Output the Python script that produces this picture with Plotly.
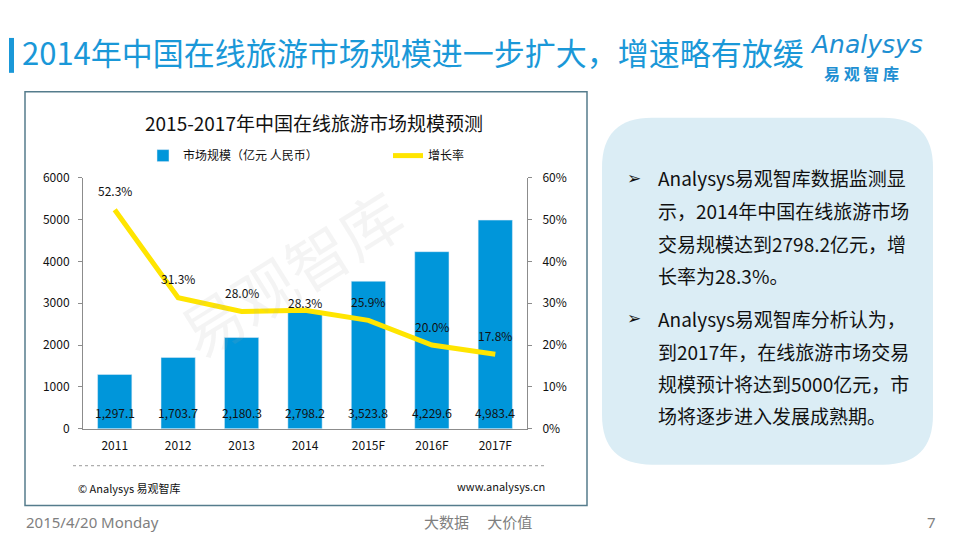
import plotly.graph_objects as go

years = ["2011", "2012", "2013", "2014", "2015F", "2016F", "2017F"]
market_size = [1297.1, 1703.7, 2180.3, 2798.2, 3523.8, 4229.6, 4983.4]
growth_rate = [52.3, 31.3, 28.0, 28.3, 25.9, 20.0, 17.8]

note_1 = ["Analysys易观智库数据监测显", "示，2014年中国在线旅游市场",
          "交易规模达到2798.2亿元，增", "长率为28.3%。"]
note_2 = ["Analysys易观智库分析认为，", "到2017年，在线旅游市场交易",
          "规模预计将达到5000亿元，市", "场将逐步进入发展成熟期。"]

W, H = 956, 536
# the page is shown slightly offset/squeezed, so screen positions are mapped back here
OX, OY, HS = 8, 17, 520.5
FONT = "Noto Sans CJK SC, Microsoft YaHei, sans-serif"
BLUE = "#0096DA"
YELLOW = "#FFE500"
TITLE_BLUE = "#1A98D8"


def px(x):
    return (x - OX) / W


def py(y):
    return 1 - (y - OY) / HS


def label(x, y, text, size, color="#111", xanchor="center", family=None):
    f = dict(size=size, color=color)
    if family:
        f["family"] = family
    return dict(x=px(x), y=py(y), xref="paper", yref="paper", text=text, showarrow=False,
                xanchor=xanchor, yanchor="middle", font=f)


def rounded_rect(x0, y0, x1, y1, r):
    # screen pixel coords -> paper coords path with rounded corners
    pts = lambda x, y: f"{px(x)},{py(y)}"
    return ("M " + pts(x0 + r, y0) + " L " + pts(x1 - r, y0) +
            " Q " + pts(x1, y0) + " " + pts(x1, y0 + r) +
            " L " + pts(x1, y1 - r) +
            " Q " + pts(x1, y1) + " " + pts(x1 - r, y1) +
            " L " + pts(x0 + r, y1) +
            " Q " + pts(x0, y1) + " " + pts(x0, y1 - r) +
            " L " + pts(x0, y0 + r) +
            " Q " + pts(x0, y0) + " " + pts(x0 + r, y0) + " Z")


fig = go.Figure()
fig.add_trace(go.Bar(x=years, y=market_size, name="市场规模（亿元 人民币）",
                     marker_color=BLUE, yaxis="y", hoverinfo="skip"))
fig.add_trace(go.Scatter(x=years, y=growth_rate, name="增长率", mode="lines",
                         line=dict(color=YELLOW, width=5), yaxis="y2", hoverinfo="skip"))

ann = []
# bar value labels near the base of each bar (x given as category index)
for i, v in enumerate(market_size):
    ann.append(dict(x=i, y=0, xref="x", yref="y", text=f"{v:,.1f}", showarrow=False,
                    xanchor="center", yanchor="middle", yshift=16,
                    font=dict(size=12, color="#111")))
# growth labels above the line
lift = {"2014": 8}
for i, (yr, g) in enumerate(zip(years, growth_rate)):
    ann.append(dict(x=i, y=g, xref="x", yref="y2", text=f"{g:.1f}%", showarrow=False,
                    xanchor="center", yanchor="middle", yshift=lift.get(yr, 19),
                    font=dict(size=12, color="#111")))

# watermark
wm = label(290, 272, "易观智库", 62, color="rgba(170,170,170,0.13)")
wm["textangle"] = -32
ann.append(wm)

# page title and logo
ann.append(label(20, 51, "2014年中国在线旅游市场规模进一步扩大，增速略有放缓", 31,
                 color=TITLE_BLUE, xanchor="left"))
ann.append(label(866, 44, "<i>Analysys</i>", 25, color="#1E8FD2", family="DejaVu Sans"))
ann.append(label(861, 72, "<b>易 观 智 库</b>", 16, color="#1E8FD2"))

# chart title and sources
ann.append(label(314, 122, "2015-2017年中国在线旅游市场规模预测", 19))
ann.append(label(76, 488, "© Analysys 易观智库", 11, xanchor="left"))
ann.append(label(547, 486, "www.analysys.cn", 11, xanchor="right"))

# right panel text
line_y = [177, 210, 243, 275, 318, 351, 384, 416]
for yy, line in zip(line_y, note_1 + note_2):
    ann.append(label(656, yy, line, 19, xanchor="left"))
for yy in (line_y[0], line_y[4]):
    ann.append(label(634, yy, "<b>➢</b>", 17, family="DejaVu Sans"))

# footer
ann.append(label(24, 522, "2015/4/20 Monday", 15, color="#7f7f7f", xanchor="left", family="Noto Sans"))
ann.append(label(478, 522, "大数据　 大价值", 15, color="#7f7f7f"))
ann.append(label(931, 522, "7", 15, color="#7f7f7f", family="Noto Sans"))

shapes = [
    dict(type="rect", xref="paper", yref="paper", x0=px(9), x1=px(14), y0=py(72), y1=py(37),
         fillcolor=TITLE_BLUE, line=dict(width=0)),
    dict(type="rect", xref="paper", yref="paper", x0=px(25), x1=px(587), y0=py(506), y1=py(91),
         line=dict(color="#557C8C", width=1.5), layer="below"),
    dict(type="line", xref="paper", yref="paper", x0=px(73), x1=px(547), y0=py(466), y1=py(466),
         line=dict(color="#9a9a9a", width=1, dash="dot")),
    dict(type="path", xref="paper", yref="paper", path=rounded_rect(602, 117, 933, 465, 50),
         fillcolor="#DBEDF5", line=dict(width=0), layer="below"),
]

axis_font = dict(size=12, color="#111")
fig.update_layout(
    width=W, height=H,
    margin=dict(l=0, r=0, t=0, b=0),
    paper_bgcolor="white", plot_bgcolor="rgba(0,0,0,0)",
    font=dict(family=FONT),
    bargap=0.46,
    xaxis=dict(domain=[px(83), px(527)], type="category", range=[-0.5, len(years) - 0.5],
               showline=True, linecolor="#8c8c8c", ticks="", tickfont=axis_font,
               ticklabelstandoff=6, fixedrange=True),
    yaxis=dict(domain=[py(429), py(177)], range=[0, 6000], dtick=1000, showgrid=False,
               zeroline=False, showline=True, linecolor="#8c8c8c", ticks="outside", ticklen=4,
               tickcolor="#8c8c8c", tickfont=axis_font, ticklabelstandoff=6),
    yaxis2=dict(overlaying="y", side="right", range=[0, 60], dtick=10, ticksuffix="%",
                showgrid=False, zeroline=False, showline=True, linecolor="#8c8c8c",
                ticks="outside", ticklen=4, tickcolor="#8c8c8c", tickfont=axis_font,
                ticklabelstandoff=8),
    legend=dict(orientation="h", x=px(143), y=py(155), xanchor="left", yanchor="middle",
                bgcolor="rgba(0,0,0,0)", font=dict(size=12, color="#111"),
                entrywidth=200, entrywidthmode="pixels"),
    annotations=ann,
    shapes=shapes,
)

fig.write_html("out.html")
